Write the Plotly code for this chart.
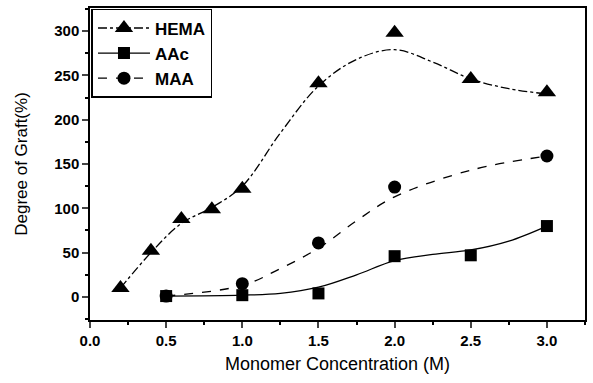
import plotly.graph_objects as go

# Measured data points
hema_x = [0.2, 0.4, 0.6, 0.8, 1.0, 1.5, 2.0, 2.5, 3.0]
hema_y = [10, 52, 88, 99, 122, 241, 298, 246, 231]
aac_x = [0.5, 1.0, 1.5, 2.0, 2.5, 3.0]
aac_y = [1, 2, 4, 46, 47, 80]
maa_x = [0.5, 1.0, 1.5, 2.0, 3.0]
maa_y = [1, 15, 61, 124, 159]

# Smoothed fit curves
hema_fit_x = [0.2, 0.4, 0.6, 0.8, 1.0, 1.25, 1.5, 1.75, 2.0, 2.25, 2.5, 2.75, 3.0]
hema_fit_y = [10, 50, 83, 101, 125, 185, 238, 268, 279, 265, 246, 235, 229]
aac_fit_x = [0.5, 1.0, 1.25, 1.5, 1.75, 2.0, 2.25, 2.5, 2.75, 3.0]
aac_fit_y = [1, 2, 4, 11, 25, 41, 48, 53, 63, 80]
maa_fit_x = [0.5, 1.0, 1.25, 1.5, 1.75, 2.0, 2.5, 3.0]
maa_fit_y = [1, 13, 32, 55, 86, 113, 143, 159]

FONT = "Liberation Sans, Arial, sans-serif"

fig = go.Figure()
series = [
    ("HEMA", hema_x, hema_y, hema_fit_x, hema_fit_y, "triangle-up", 16, "dashdot"),
    ("AAc", aac_x, aac_y, aac_fit_x, aac_fit_y, "square", 12, "solid"),
    ("MAA", maa_x, maa_y, maa_fit_x, maa_fit_y, "circle", 13, "dash"),
]
for name, x, y, fx, fy, sym, sz, dash in series:
    fig.add_trace(go.Scatter(x=fx, y=fy, mode="lines", line=dict(color="black", width=1.3, dash=dash, shape="spline"),
                             showlegend=False, hoverinfo="skip"))
    fig.add_trace(go.Scatter(x=x, y=y, mode="markers", marker=dict(symbol=sym, size=sz, color="black"),
                             showlegend=False, name=name))
    fig.add_trace(go.Scatter(x=[None], y=[None], mode="lines+markers", name=name,
                             line=dict(color="black", width=1.3, dash=dash),
                             marker=dict(symbol=sym, size=sz, color="black")))

fig.update_layout(
    width=593, height=383,
    margin=dict(l=90, r=6, t=8, b=63),
    paper_bgcolor="white", plot_bgcolor="white",
    font=dict(family=FONT, color="black"),
    legend=dict(x=0.003, y=0.997, xanchor="left", yanchor="top", bordercolor="black", borderwidth=1.5,
                bgcolor="white", font=dict(size=17, weight="bold"), tracegroupgap=0, itemwidth=52),
    xaxis=dict(range=[0, 3.25], tickvals=[0, 0.5, 1.0, 1.5, 2.0, 2.5, 3.0],
               ticktext=["0.0", "0.5", "1.0", "1.5", "2.0", "2.5", "3.0"],
               ticks="outside", ticklen=6, tickwidth=1.5, showline=True, linecolor="black", linewidth=1.5,
               mirror=True, showgrid=False, zeroline=False,
               tickfont=dict(size=15, family=FONT, weight="bold", color="black"),
               minor=dict(ticks="outside", ticklen=3, dtick=0.25, tickcolor="black"),
               title=dict(text="Monomer Concentration (M)", font=dict(size=18, color="black"), standoff=10)),
    yaxis=dict(range=[-26, 326], tickvals=[0, 50, 100, 150, 200, 250, 300],
               ticks="outside", ticklen=6, tickwidth=1.5, showline=True, linecolor="black", linewidth=1.5,
               mirror=True, showgrid=False, zeroline=False,
               tickfont=dict(size=15, family=FONT, weight="bold", color="black"),
               minor=dict(ticks="outside", ticklen=3, dtick=25, tickcolor="black"),
               title=dict(text="Degree of Graft(%)", font=dict(size=17, color="black"), standoff=22)),
)

fig.write_html("out.html")
